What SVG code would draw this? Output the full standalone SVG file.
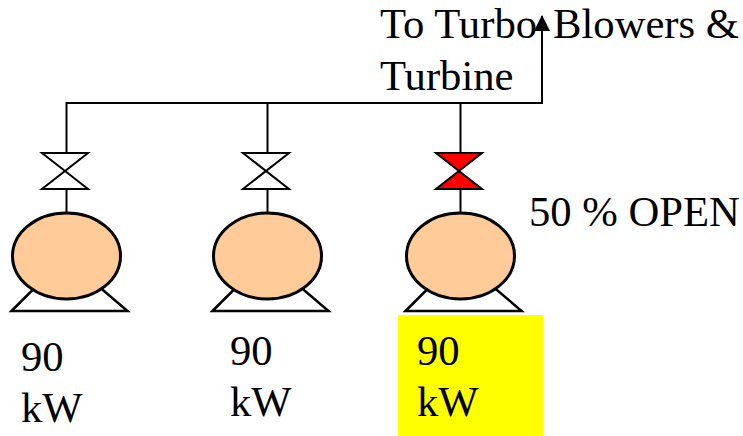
<svg xmlns="http://www.w3.org/2000/svg" width="743" height="436" viewBox="0 0 743 436">
<style>
.t{font-family:"Liberation Serif","Times New Roman",serif;font-size:42.67px;fill:#000}
.l{fill:none;stroke:#000;stroke-width:2}
.e{fill:#ffcc99;stroke:#000;stroke-width:3}
.b{fill:#fff;stroke:#000;stroke-width:2.5}
.v{fill:#fff;stroke:#000;stroke-width:2}
.vr{fill:#f00;stroke:#000;stroke-width:2}
</style>
<defs>
<marker id="a" markerUnits="userSpaceOnUse" markerWidth="16" markerHeight="17" refX="15" refY="8" orient="auto"><path d="M0 0L16 8L0 16Z" fill="#000"/></marker>
<g id="pump"><path class="b" d="M-55 55L-20 20H20L61 55Z"/><ellipse class="e" cx="0" cy="0" rx="54" ry="43"/></g>
</defs>
<rect x="398" y="315" width="145" height="121" fill="#ff0"/>
<g id="labels"><text class="t" x="380" y="38">To Turbo <tspan x="553">Blowers &amp;</tspan></text><text class="t" x="380" y="90">Turbine</text><text class="t" x="529" y="226">50 % OPEN</text></g>
<g id="connectors">
<path class="l" d="M66.500 153V103H542V16" marker-end="url(#a)"/>
<path class="l" d="M267.500 103V153"/>
<path class="l" d="M460.500 103V153"/>
<path class="l" d="M66.500 189V213"/>
<path class="l" d="M267.500 189V213"/>
<path class="l" d="M460.500 189V213"/>
</g>
<g id="pump1"><use href="#pump" x="66.500" y="256"/><path class="v" d="M42 153H88L42 189H88Z"/><text class="t" x="21" y="371">90</text><text class="t" x="21" y="422">kW</text></g>
<g id="pump2"><use href="#pump" x="267.500" y="256"/><path class="v" d="M243 153H289L243 189H289Z"/><text class="t" x="230" y="365">90</text><text class="t" x="230" y="416">kW</text></g>
<g id="pump3"><use href="#pump" x="460.500" y="256"/><path class="vr" d="M436 153H482L436 189H482Z"/><text class="t" x="417" y="365">90</text><text class="t" x="417" y="416">kW</text></g>
</svg>
